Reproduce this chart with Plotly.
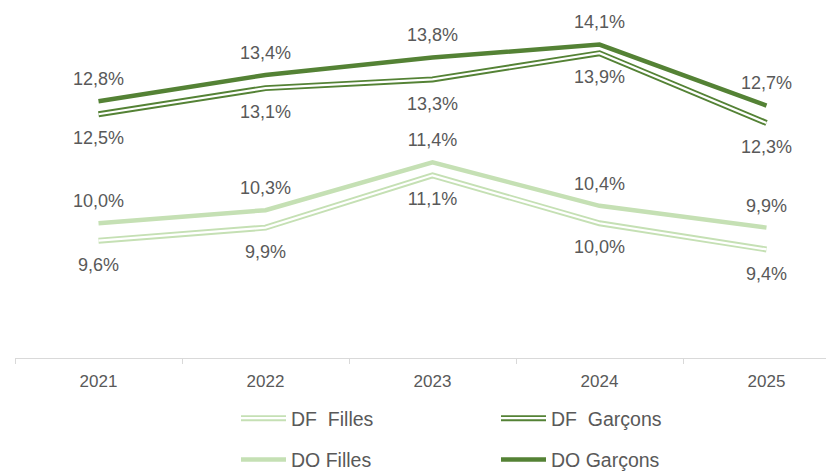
import plotly.graph_objects as go

years = ["2021", "2022", "2023", "2024", "2025"]
df_filles = [9.6, 9.9, 11.1, 10.0, 9.4]
df_garcons = [12.5, 13.1, 13.3, 13.9, 12.3]
do_filles = [10.0, 10.3, 11.4, 10.4, 9.9]
do_garcons = [12.8, 13.4, 13.8, 14.1, 12.7]
names = ["DF\u00a0\u00a0Filles", "DF\u00a0\u00a0Garçons", "DO Filles", "DO Garçons"]

DARK = "#548235"
LIGHT = "#C5E0B4"
TXT = "#595959"
FONT = "Liberation Sans, Arial, sans-serif"

fig = go.Figure()

series = [
    (names[0], df_filles, LIGHT, True, "legend", "legend3"),
    (names[1], df_garcons, DARK, True, "legend2", "legend4"),
    (names[2], do_filles, LIGHT, False, "legend", None),
    (names[3], do_garcons, DARK, False, "legend2", None),
]
for nm, vals, col, hollow, lg, lg_in in series:
    fig.add_trace(go.Scatter(
        x=years, y=vals, name=nm, mode="lines",
        line=dict(color=col, width=6 if hollow else 4.5),
        legend=lg, legendgroup=nm, hoverinfo="skip"))
    if hollow:
        fig.add_trace(go.Scatter(
            x=years, y=vals, name=nm, mode="lines",
            line=dict(color="white", width=2.2),
            legend=lg_in, legendgroup=nm + "_in", hoverinfo="skip"))

for vals, pos, msize in [
    (df_filles, "bottom center", 25),
    (df_garcons, "bottom center", 25),
    (do_filles, "top center", 17),
    (do_garcons, "top center", 17),
]:
    fig.add_trace(go.Scatter(
        x=years, y=vals, mode="markers+text", showlegend=False,
        marker=dict(size=msize, color="rgba(0,0,0,0)"),
        texttemplate="%{y:.1f}%", textposition=pos,
        textfont=dict(size=18, color=TXT, family=FONT), hoverinfo="skip"))

leg_common = dict(orientation="v", xanchor="left", yanchor="top", yref="container",
                  bgcolor="rgba(0,0,0,0)", borderwidth=0, tracegroupgap=13, itemwidth=45,
                  font=dict(size=19.5, color=TXT, family=FONT))
clear_font = dict(size=19.5, color="rgba(0,0,0,0)", family=FONT)
x1 = (228 - 7) / 819
x2 = (488 - 7) / 819
ly = 1 - 391 / 474

fig.update_layout(
    width=826, height=474,
    margin=dict(l=7, r=0, t=0, b=124, autoexpand=False),
    paper_bgcolor="white", plot_bgcolor="white",
    separators=", ",
    font=dict(family=FONT, color=TXT),
    showlegend=True,
    legend=dict(x=x1, y=ly, **leg_common),
    legend2=dict(x=x2, y=ly, **leg_common),
    legend3=dict(x=x1, y=ly, **{**leg_common, "font": clear_font}),
    legend4=dict(x=x2, y=ly, **{**leg_common, "font": clear_font}),
    xaxis=dict(type="category", range=[-0.5, -0.5 + 819 / 167],
               showline=True, linecolor="#D9D9D9", linewidth=1,
               ticks="outside", tickson="boundaries", ticklen=5, tickcolor="#D9D9D9",
               ticklabelstandoff=8,
               showgrid=False, zeroline=False,
               tickfont=dict(size=17, color=TXT, family=FONT)),
    yaxis=dict(range=[6.91, 6.91 + 350 / 43.6], visible=False, showgrid=False, zeroline=False),
)

fig.write_html("out.html")
